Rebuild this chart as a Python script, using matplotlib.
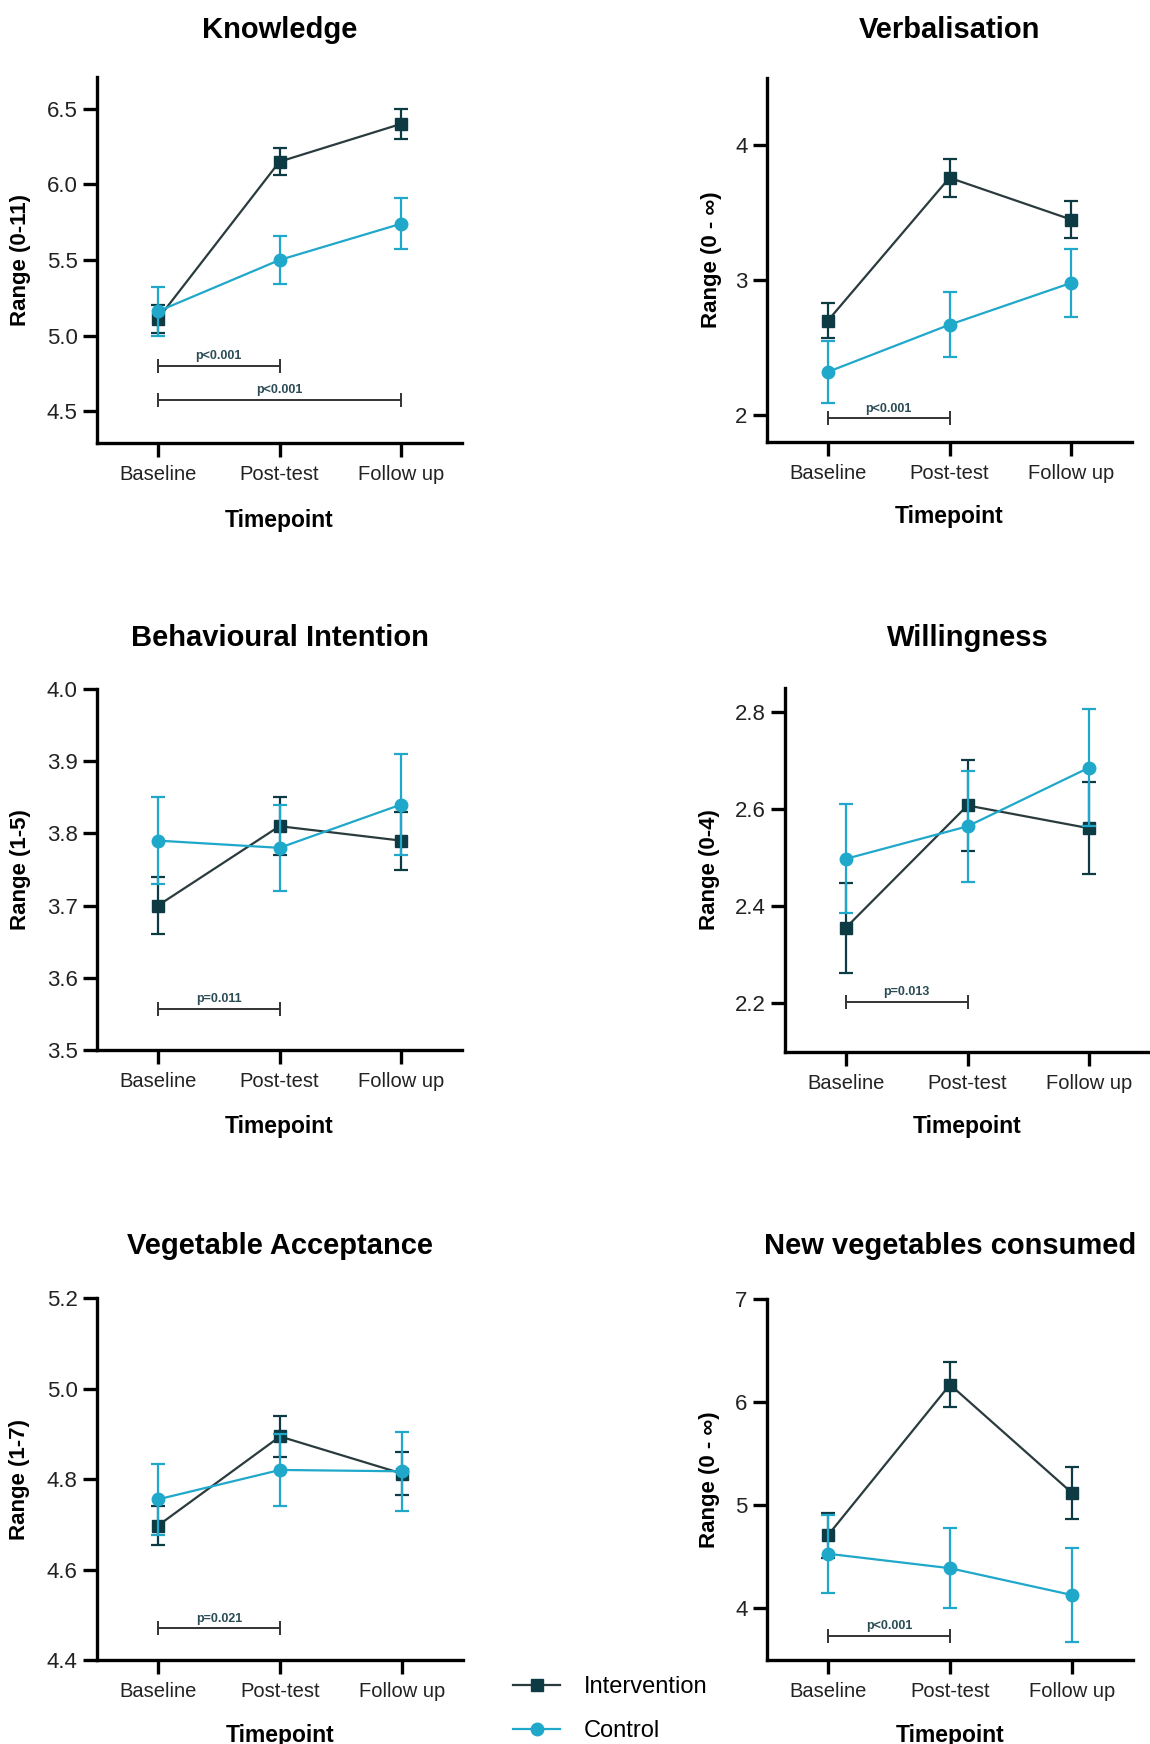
import numpy as np
import matplotlib
matplotlib.use("Agg")
import matplotlib.pyplot as plt
from matplotlib.lines import Line2D

plt.rcParams['font.family'] = ['Liberation Sans', 'DejaVu Sans']

# Dados
timepoints = ['Baseline', 'Post-test', 'Follow up']

knowledge_int = [5.11, 6.15, 6.40]
knowledge_int_err = [0.09, 0.09, 0.10]
knowledge_ctl = [5.16, 5.50, 5.74]
knowledge_ctl_err = [0.16, 0.16, 0.17]

verbal_int = [2.70, 3.76, 3.45]
verbal_int_err = [0.13, 0.14, 0.14]
verbal_ctl = [2.32, 2.67, 2.98]
verbal_ctl_err = [0.23, 0.24, 0.25]

intention_int = [3.70, 3.81, 3.79]
intention_int_err = [0.04, 0.04, 0.04]
intention_ctl = [3.79, 3.78, 3.84]
intention_ctl_err = [0.06, 0.06, 0.07]

willing_int = [2.356, 2.608, 2.561]
willing_int_err = [0.093, 0.094, 0.095]
willing_ctl = [2.498, 2.565, 2.686]
willing_ctl_err = [0.112, 0.115, 0.121]

accept_int = [4.697, 4.894, 4.812]
accept_int_err = [0.043, 0.045, 0.048]
accept_ctl = [4.755, 4.820, 4.817]
accept_ctl_err = [0.079, 0.080, 0.087]

newveg_int = [4.71, 6.17, 5.12]
newveg_int_err = [0.22, 0.22, 0.25]
newveg_ctl = [4.53, 4.39, 4.13]
newveg_ctl_err = [0.38, 0.39, 0.46]

# comparações significativas: (inicio, fim, altura, texto)
knowledge_sig = [(0, 1, 4.80, 'p<0.001'), (0, 2, 4.575, 'p<0.001')]
verbal_sig = [(0, 1, 1.975, 'p<0.001')]
intention_sig = [(0, 1, 3.557, 'p=0.011')]
willing_sig = [(0, 1, 2.203, 'p=0.013')]
accept_sig = [(0, 1, 4.470, 'p=0.021')]
newveg_sig = [(0, 1, 3.735, 'p<0.001')]

titles = ['Knowledge', 'Verbalisation', 'Behavioural Intention',
          'Willingness', 'Vegetable Acceptance', 'New vegetables consumed']
ylabels = ['Range (0-11)', 'Range (0 - \u221e)', 'Range (1-5)',
           'Range (0-4)', 'Range (1-7)', 'Range (0 - \u221e)']

# Cores
cor_int = '#0e3a44'
cor_int_linha = '#2a3b3e'
cor_ctl = '#1fa8ca'
cor_p = '#2c4c55'

W, H = 1150, 1744
fig = plt.figure(figsize=(W / 100, H / 100), dpi=100)

# posições dos eixos em pixels: (esq, topo, dir, base)
caixas = [(97, 77, 462, 443), (767, 78, 1132, 442),
          (97, 689, 462, 1050), (785, 688, 1150, 1052),
          (97, 1298, 463, 1660), (767, 1299, 1133, 1660)]
ylims = [(4.29, 6.71), (1.8, 4.5), (3.5, 4.0), (2.1, 2.85), (4.4, 5.2), (3.5, 7.0)]
yticks = [[4.5, 5.0, 5.5, 6.0, 6.5], [2, 3, 4], [3.5, 3.6, 3.7, 3.8, 3.9, 4.0],
          [2.2, 2.4, 2.6, 2.8], [4.4, 4.6, 4.8, 5.0, 5.2], [4, 5, 6, 7]]
yfmt = ['%.1f', '%d', '%.1f', '%.1f', '%.1f', '%d']
ylab_dx = [76, 56, 76, 75, 78, 57]
title_dy = [47, 48, 51, 50, 52, 53]
xlab_dy = [77, 75, 76, 75, 75, 75]

series = [
    (knowledge_int, knowledge_int_err, knowledge_ctl, knowledge_ctl_err, knowledge_sig),
    (verbal_int, verbal_int_err, verbal_ctl, verbal_ctl_err, verbal_sig),
    (intention_int, intention_int_err, intention_ctl, intention_ctl_err, intention_sig),
    (willing_int, willing_int_err, willing_ctl, willing_ctl_err, willing_sig),
    (accept_int, accept_int_err, accept_ctl, accept_ctl_err, accept_sig),
    (newveg_int, newveg_int_err, newveg_ctl, newveg_ctl_err, newveg_sig),
]

x = np.arange(len(timepoints))

for i, (yi, ei, yc, ec, sig) in enumerate(series):
    l, t, r, b = caixas[i]
    ax = fig.add_axes([l / W, 1 - b / H, (r - l) / W, (b - t) / H])

    # Intervenção
    ax.errorbar(x, yi, yerr=ei, color=cor_int_linha, lw=1.6, ecolor=cor_int,
                elinewidth=1.6, capsize=5, capthick=1.6, zorder=3)
    ax.plot(x, yi, ls='none', marker='s', ms=8, color=cor_int, zorder=4)
    # Controle
    ax.errorbar(x, yc, yerr=ec, color=cor_ctl, lw=1.6, ecolor=cor_ctl,
                elinewidth=1.6, capsize=5, capthick=1.6, zorder=5)
    ax.plot(x, yc, ls='none', marker='o', ms=9, color=cor_ctl, zorder=6)

    # barras de significância
    for a, c, h, txt in sig:
        ax.plot([x[a], x[c]], [h, h], color='#333333', lw=1.4, marker='|',
                ms=10, mew=1.4, zorder=2)
        ax.annotate(txt, xy=((x[a] + x[c]) / 2, h), xytext=(0, 7),
                    textcoords='offset points', ha='center', va='center',
                    fontsize=9, fontweight='bold', color=cor_p)

    ax.set_xlim(-0.5, 2.5)
    ax.set_ylim(*ylims[i])
    ax.set_xticks(x)
    ax.set_xticklabels(timepoints, fontsize=14.5, color='#222222')
    ax.set_yticks(yticks[i])
    ax.set_yticklabels([yfmt[i] % v for v in yticks[i]], fontsize=16, color='#222222')

    for s in ['top', 'right']:
        ax.spines[s].set_visible(False)
    for s in ['left', 'bottom']:
        ax.spines[s].set_linewidth(2.4)
    ax.tick_params(axis='both', length=10, width=2.4)
    ax.tick_params(axis='x', pad=6)
    ax.tick_params(axis='y', pad=4)

    ax.set_xlabel('Timepoint', fontsize=16.5, fontweight='bold', va='center')
    ax.xaxis.set_label_coords(0.5, -xlab_dy[i] / (b - t))
    ax.set_ylabel(ylabels[i], fontsize=16, fontweight='bold', va='center')
    ax.yaxis.set_label_coords(-ylab_dx[i] / (r - l), 0.5)

    ax.annotate(titles[i], xy=(0.5, 1), xycoords='axes fraction',
                xytext=(0, title_dy[i] * 0.72), textcoords='offset points',
                ha='center', va='center', fontsize=21, fontweight='bold')

# Legenda
handles = [Line2D([], [], color=cor_int_linha, lw=1.6, marker='s', ms=8,
                  mfc=cor_int, mec=cor_int),
           Line2D([], [], color=cor_ctl, lw=1.6, marker='o', ms=9)]
fig.legend(handles, ['Intervention', 'Control'], loc='center left',
           bbox_to_anchor=(513 / W, 1 - 1709 / H), frameon=False, fontsize=17,
           handlelength=2.0, handletextpad=1.0, labelspacing=0.95,
           borderpad=0, borderaxespad=0)

plt.savefig('out.png', dpi=100)
